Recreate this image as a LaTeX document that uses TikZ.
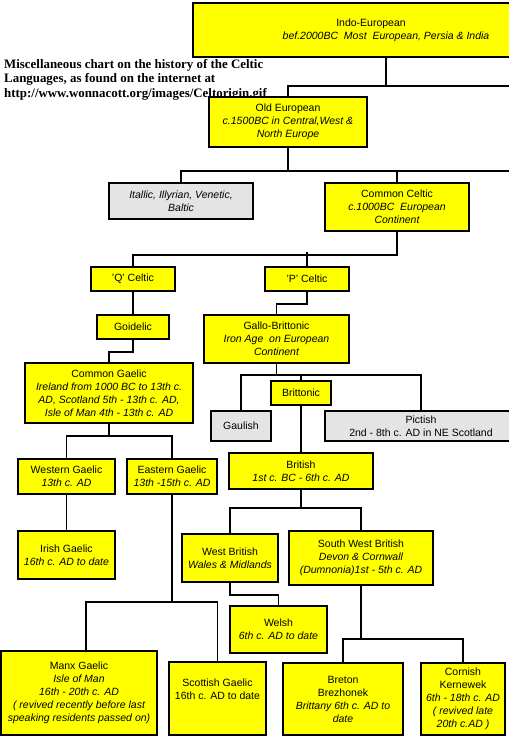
\documentclass[tikz,border=0pt]{standalone}
\usepackage{fontspec}
\setmainfont{Liberation Sans}
\newfontfamily\titlefont{Liberation Serif}
\definecolor{boxyellow}{HTML}{FFFF00}
\definecolor{boxgray}{HTML}{E4E4E4}
\tikzset{
  box/.style={draw=black, line width=1.9pt, fill=boxyellow, inner sep=0pt,
    align=center, text=black, font=\fontsize{10.5}{13}\selectfont},
  gbox/.style={box, fill=boxgray},
  conn/.style={draw=black, line width=1.9pt, line cap=rect},
}
\begin{document}
\begin{tikzpicture}[x=1pt,y=-1pt]
\useasboundingbox (0,0) rectangle (509,740);
% title
\node[anchor=north west, inner sep=0pt, align=left,
  font=\titlefont\bfseries\fontsize{12.9}{14.5}\selectfont] (title) at (4,59)
  {Miscellaneous chart on the history of the Celtic\\
   Languages, as found on the internet at\\
   http://www.wonnacott.org/images/Celtorigin.gif};
% boxes
\node[box, minimum width=386, minimum height=54] (indo) at (386,30)
  {Indo-European\hspace*{30pt}\\\itshape bef.2000BC\ \ Most\ \ European, Persia \& India};
\node[box, minimum width=158, minimum height=50] (oldeu) at (288,122)
  {Old European\\\itshape c.1500BC in Central,West \&\\\itshape North Europe};
\node[gbox, minimum width=144, minimum height=36] (ital) at (181,201)
  {\itshape Itallic, Illyrian, Venetic,\\\itshape Baltic};
\node[box, minimum width=144, minimum height=48] (ccelt) at (397,207)
  {Common Celtic\\\itshape c.1000BC\ \ European\\\itshape Continent};
\node[box, minimum width=84, minimum height=24] (qcelt) at (133,279) {'Q' Celtic};
\node[box, minimum width=84, minimum height=24] (pcelt) at (307,279) {'P' Celtic};
\node[box, minimum width=72, minimum height=24] (goid) at (133,327) {Goidelic};
\node[box, minimum width=145, minimum height=48] (gallo) at (276.5,339)
  {Gallo-Brittonic\\\itshape Iron Age\ \ on European\\\itshape Continent};
\node[box, minimum width=168, minimum height=60] (cgael) at (109,393)
  {Common Gaelic\\\itshape Ireland from 1000 BC to 13th c.\\\itshape AD, Scotland 5th - 13th c. AD,\\\itshape Isle of Man 4th - 13th c. AD};
\node[box, minimum width=60, minimum height=24] (britt) at (301,393) {Brittonic};
\node[gbox, minimum width=60, minimum height=30] (gaul) at (241,426) {Gaulish};
\node[gbox, minimum width=192, minimum height=30] (pict) at (421,426)
  {Pictish\\2nd - 8th c. AD in NE Scotland};
\node[box, minimum width=97, minimum height=35] (wg) at (66.5,476.5)
  {Western Gaelic\\\itshape 13th c. AD};
\node[box, minimum width=90, minimum height=35] (eg) at (172,476.5)
  {Eastern Gaelic\\\itshape 13th -15th c. AD};
\node[box, minimum width=144, minimum height=36] (brit) at (301,471)
  {British\\\itshape 1st c. BC - 6th c. AD};
\node[box, minimum width=97, minimum height=48] (irish) at (66.5,555)
  {Irish Gaelic\\\itshape 16th c. AD to date};
\node[box, minimum width=96, minimum height=48] (wb) at (230,558)
  {West British\\\itshape Wales \& Midlands};
\node[box, minimum width=144, minimum height=54] (swb) at (361,558)
  {South West British\\\itshape Devon \& Cornwall\\\itshape (Dumnonia)1st - 5th c. AD};
\node[box, minimum width=97, minimum height=47] (welsh) at (278.5,629.5)
  {Welsh\\\itshape 6th c. AD to date};
\node[box, minimum width=156, minimum height=84] (manx) at (79,693)
  {Manx Gaelic\\\itshape Isle of Man\\\itshape 16th - 20th c. AD\\\itshape ( revived recently before last\\\itshape speaking residents passed on)};
\node[box, minimum width=97, minimum height=73] (scot) at (217.5,698.5)
  {Scottish Gaelic\\16th c. AD to date\\[6pt]};
\node[box, minimum width=120, minimum height=72] (breton) at (343,699)
  {Breton\\Brezhonek\\\itshape Brittany 6th c. AD to\\\itshape date};
\node[box, minimum width=84, minimum height=72] (corn) at (463,699)
  {Cornish\\Kernewek\\\itshape 6th - 18th c. AD\\\itshape ( revived late\\\itshape 20th c.AD )};
% junctions and off-page ends
\coordinate (j1) at (386,86);
\coordinate (r1) at (515,86);
\coordinate (r2) at (515,171);
\coordinate (j7) at (0,375);
\coordinate (j9) at (0,436);
\coordinate (j11) at (0,508);
\coordinate (j13) at (0,602);
\coordinate (j14) at (0,639);
\coordinate (manxin) at ([xshift=7pt]manx.north);
% connectors
\draw[conn] (indo.south) -- (j1);
\draw[conn] (oldeu.north) |- (r1);
\draw[conn] (oldeu.south) -- (oldeu.south |- r2);
\draw[conn] (ital.north) |- (r2);
\draw[conn] (ccelt.north) -- (ccelt.north |- r2);
\draw[conn] (ccelt.south) -- ++(0,23) -| (qcelt.north);
\draw[conn] (pcelt.north) -- ++(0,-13);
\draw[conn] (qcelt.south) -- (goid.north);
\draw[conn] (goid.south) -- ++(0,12) -| (cgael.north);
\draw[conn] (pcelt.south) -- ++(0,12) -| (gallo.north);
\draw[conn] (gallo.south) -- (gallo.south |- j7);
\draw[conn] (gaul.north) |- (pict.north |- j7) -- (pict.north);
\draw[conn] (britt.north) -- (britt.north |- j7);
\draw[conn] (britt.south) -- (brit.north);
\draw[conn] (cgael.south) -- (cgael.south |- j9);
\draw[conn] (wg.north) |- (eg.north |- j9) -- (eg.north);
\draw[conn] (wg.south) -- (irish.north);
\draw[conn] (brit.south) -- (brit.south |- j11);
\draw[conn] (wb.north) |- (swb.north |- j11) -- (swb.north);
\draw[conn] (wb.south) -- ++(0,12) -| (welsh.north);
\draw[conn] (eg.south) -- (eg.south |- j13);
\draw[conn] (manxin) |- (scot.north |- j13) -- (scot.north);
\draw[conn] (swb.south) -- (swb.south |- j14);
\draw[conn] (breton.north) |- (corn.north |- j14) -- (corn.north);
\end{tikzpicture}
\end{document}
